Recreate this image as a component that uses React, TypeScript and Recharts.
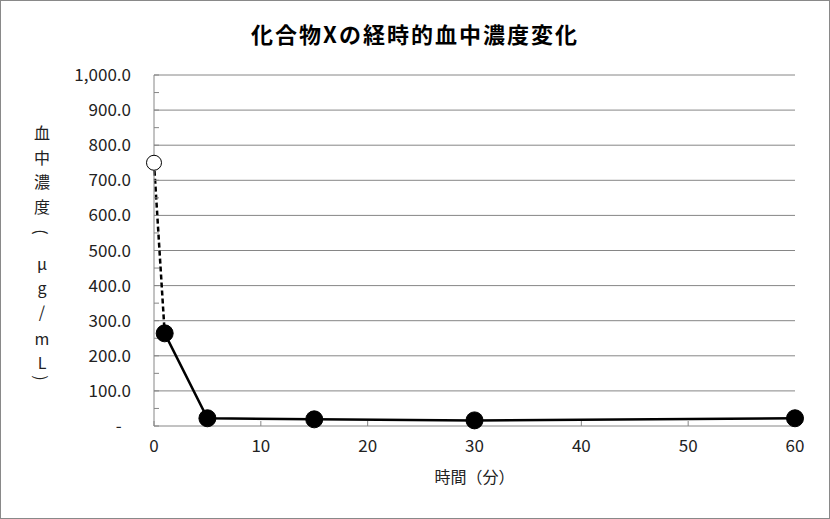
import React from 'react';
import { LineChart, Line, XAxis, YAxis, CartesianGrid } from 'recharts';

// 時間(分) と 血中濃度(μg/mL)
const times = [0, 1, 5, 15, 30, 60];
const concentrations = [750, 264, 22, 19, 16, 22];

const xTicks = [0, 10, 20, 30, 40, 50, 60];
const yTicks = [0, 50, 100, 150, 200, 250, 300, 350, 400, 450, 500, 550, 600, 650, 700, 750, 800, 850, 900, 950, 1000];
const gridValues = [100, 200, 300, 400, 500, 600, 700, 800, 900, 1000];

// 縦書きのY軸ラベル（括弧は横向きに回転）
const yLabelChars = ['血', '中', '濃', '度', '(', 'μ', 'g', '/', 'm', 'L', ')'];
const yLabelCenters = [131, 156, 180, 205, 231, 262, 286, 310, 337, 361, 377];

const FONT = '"Noto Sans CJK JP", "Noto Sans", sans-serif';
const GRAY = '#868686';

// 0→1分は点線、1分以降は実線
const data = times.map((t, i) => ({
  t,
  early: i <= 1 ? concentrations[i] : null,
  later: i >= 1 ? concentrations[i] : null,
}));

const fmtY = (v: number) => {
  if (v === 0) return '-\u2007';
  if (v % 100 !== 0) return '';
  return v.toLocaleString('en-US', { minimumFractionDigits: 1, maximumFractionDigits: 1 });
};

const HollowDot = (props: any) => {
  const { cx, cy, index } = props;
  if (index !== 0 || cx == null || cy == null) return <g key={`e${index}`} />;
  return <circle key={`e${index}`} cx={cx} cy={cy} r={7.5} fill="#fff" stroke="#000" strokeWidth={1} />;
};

const FilledDot = (props: any) => {
  const { cx, cy, index } = props;
  if (cx == null || cy == null) return <g key={`l${index}`} />;
  return <circle key={`l${index}`} cx={cx} cy={cy} r={8.5} fill="#000" stroke="#000" />;
};

const YLabel = () => (
  <g>
    {yLabelChars.map((c, i) => {
      const cy = yLabelCenters[i];
      const isParen = c === '(' || c === ')';
      return (
        <text
          key={i}
          x={41}
          y={cy}
          fontFamily={FONT}
          fontSize={16}
          fill="#222"
          textAnchor="middle"
          dominantBaseline="central"
          transform={isParen ? `rotate(90 41 ${cy})` : undefined}
        >
          {c}
        </text>
      );
    })}
  </g>
);

export default function App() {
  return (
    <div
      style={{
        position: 'absolute',
        left: 0,
        top: 0,
        width: 830,
        height: 519,
        boxSizing: 'border-box',
        border: '1px solid #898989',
        background: '#fff',
        fontFamily: FONT,
      }}
    >
      <div
        style={{
          position: 'absolute',
          left: 0,
          top: 17,
          width: 828,
          textAlign: 'center',
          fontSize: 22,
          fontWeight: 'bold',
          letterSpacing: 2,
          color: '#000',
          lineHeight: '30px',
        }}
      >
        化合物Xの経時的血中濃度変化
      </div>
      <LineChart width={828} height={517} data={data} margin={{ top: 74, right: 34, left: 0, bottom: 22 }}>
        <CartesianGrid horizontal vertical={false} horizontalValues={gridValues} stroke={GRAY} strokeWidth={1} />
        <XAxis
          dataKey="t"
          type="number"
          domain={[0, 60]}
          ticks={xTicks}
          interval={0}
          height={70}
          tickSize={-5}
          tickMargin={19}
          axisLine={{ stroke: GRAY }}
          tickLine={{ stroke: GRAY }}
          tick={{ fill: '#222', fontSize: 17, fontFamily: FONT }}
          label={{ value: '時間（分）', position: 'insideBottom', offset: 13, fill: '#222', fontSize: 16, fontFamily: FONT }}
        />
        <YAxis
          type="number"
          domain={[0, 1000]}
          ticks={yTicks}
          interval={0}
          width={153}
          tickSize={-5}
          tickMargin={28}
          tickFormatter={fmtY}
          axisLine={{ stroke: GRAY }}
          tickLine={{ stroke: GRAY }}
          tick={{ fill: '#222', fontSize: 17, fontFamily: FONT }}
          label={{ content: YLabel }}
        />
        <Line
          dataKey="early"
          type="linear"
          stroke="#000"
          strokeWidth={2.5}
          strokeDasharray="5 3"
          dot={HollowDot}
          activeDot={false}
          isAnimationActive={false}
        />
        <Line
          dataKey="later"
          type="linear"
          stroke="#000"
          strokeWidth={2.5}
          dot={FilledDot}
          activeDot={false}
          isAnimationActive={false}
        />
      </LineChart>
    </div>
  );
}
